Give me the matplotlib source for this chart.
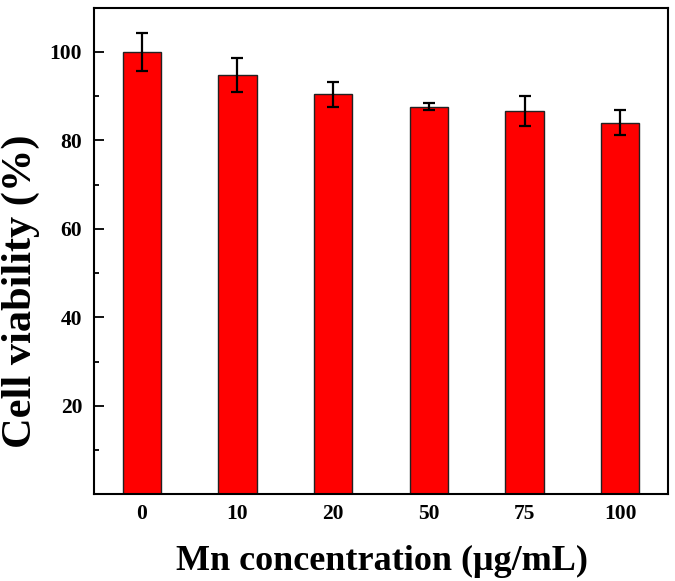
import matplotlib
matplotlib.use("Agg")
import matplotlib.pyplot as plt
from matplotlib.ticker import MultipleLocator

categories = ["0", "10", "20", "50", "75", "100"]
viability = [100.0, 94.7, 90.4, 87.6, 86.7, 84.0]
errors = [4.3, 3.8, 2.85, 0.75, 3.4, 2.9]

plt.rcParams['font.family'] = ['Liberation Serif', 'DejaVu Serif']
plt.rcParams['font.weight'] = 'bold'

W, H = 675, 581
fig = plt.figure(figsize=(6.75, 5.81), dpi=100)
ax = fig.add_axes([94/W, 1 - 494.4/H, (668-94)/W, (494.4-7.5)/H])

x = list(range(len(categories)))
ax.bar(x, viability, width=0.40, color='#ff0000', edgecolor='#222222', linewidth=1.0,
       yerr=errors, error_kw=dict(ecolor='black', elinewidth=1.6, capsize=4.5, capthick=1.6))

ax.set_xlim(-0.5, 5.5)
ax.set_ylim(0, 110)
ax.set_xticks(x)
ax.set_xticklabels(categories)
ax.yaxis.set_major_locator(MultipleLocator(20))
ax.yaxis.set_minor_locator(MultipleLocator(10))
ax.set_yticks([20, 40, 60, 80, 100])

ax.tick_params(axis='y', which='major', direction='in', length=7, width=1.3, pad=8.5, labelsize=15.5)
ax.tick_params(axis='y', which='minor', direction='in', length=3.6, width=1.3)
ax.tick_params(axis='x', which='both', length=0, pad=7, labelsize=15.5)
for lab in ax.get_xticklabels() + ax.get_yticklabels():
    lab.set_fontweight('bold')

for s in ax.spines.values():
    s.set_linewidth(1.5)

fig.text(381.5/W, 1 - 561.5/H, "Mn concentration (\u03bcg/mL)", fontsize=26, fontweight='bold',
         ha='center', va='center')
fig.text(21/W, 1 - 291/H, "Cell viability (%)", fontsize=30.5, fontweight='bold',
         ha='center', va='center', rotation=90)

fig.savefig("out.png", dpi=100)
